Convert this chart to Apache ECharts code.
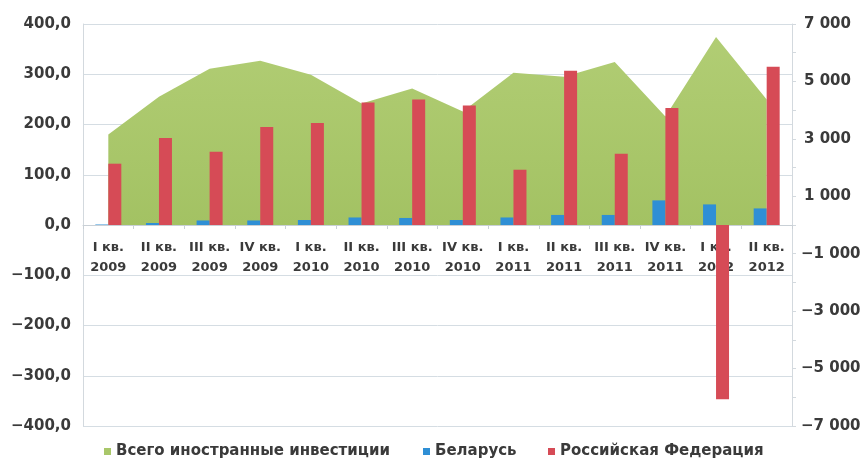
<!DOCTYPE html>
<html lang="ru">
<head>
    <meta charset="utf-8">
    <title>Иностранные инвестиции</title>
    <script src="https://cdn.jsdelivr.net/npm/echarts@6/dist/echarts.min.js"></script>
    <style>
        html, body { margin: 0; padding: 0; background: #fff; }
        #main { width: 865px; height: 463px; }
    </style>
</head>
<body>
<div id="main"></div>
<script type="text/javascript">
    // кварталы
    var categories = ['I кв.\n2009', 'II кв.\n2009', 'III кв.\n2009', 'IV кв.\n2009',
        'I кв.\n2010', 'II кв.\n2010', 'III кв.\n2010', 'IV кв.\n2010',
        'I кв.\n2011', 'II кв.\n2011', 'III кв.\n2011', 'IV кв.\n2011',
        'I кв.\n2012', 'II кв.\n2012'];

    // всего (правая ось)
    var totalValues = [3150, 4470, 5440, 5720, 5230, 4230, 4750, 3950, 5300, 5160, 5680, 3780, 6550, 4370];
    // левая ось
    var belarusValues = [1, 4, 9, 9, 10, 15, 14, 10, 15, 20, 20, 49, 41, 33];
    var russiaValues = [122, 173, 146, 195, 203, 244, 250, 238, 110, 307, 142, 233, -347, 315];

    var leftTicks = [-400, 400, 100];
    var rightTicks = [-7000, 7000, 1000];

    var fontFamily = '"DejaVu Sans", Verdana, sans-serif';
    var labelColor = '#3a3a3a';

    function fmtLeft(v) {
        var s = Math.abs(v).toFixed(1).replace('.', ',');
        return v < 0 ? '\u2212' + s : s;
    }

    function fmtRight(v) {
        if (Math.abs(v) % 2000 !== 1000) return '';
        var a = Math.abs(v);
        var s = Math.floor(a / 1000) + ' ' + ('00' + (a % 1000)).slice(-3);
        if (v < 0) return '{m|\u2212' + s + '}';
        return '{p|' + s + '}';
    }

    var legendText = {fontSize: 15, fontWeight: 'bold', color: labelColor, fontFamily: fontFamily};

    var myChart = echarts.init(document.getElementById('main'));
    myChart.setOption({
        animation: false,
        grid: {left: 83, right: 73, top: 24, bottom: 37},
        legend: [
            {data: ['Всего иностранные инвестиции'], left: 104, bottom: 4, padding: 0, icon: 'rect',
                itemWidth: 7, itemHeight: 7, textStyle: legendText},
            {data: ['Беларусь'], left: 423, bottom: 4, padding: 0, icon: 'rect',
                itemWidth: 7, itemHeight: 7, textStyle: legendText},
            {data: ['Российская Федерация'], left: 548, bottom: 4, padding: 0, icon: 'rect',
                itemWidth: 7, itemHeight: 7, textStyle: legendText}
        ],
        xAxis: {
            type: 'category',
            data: categories,
            offset: -201,
            axisLine: {onZero: false, lineStyle: {color: '#c9d0d6'}},
            axisTick: {show: true, length: 4, lineStyle: {color: '#c9d0d6'}},
            axisLabel: {
                interval: 0,
                margin: 13,
                fontSize: 13,
                lineHeight: 20,
                fontWeight: 'bold',
                color: labelColor,
                fontFamily: fontFamily
            }
        },
        yAxis: [
            {
                type: 'value',
                min: leftTicks[0],
                max: leftTicks[1],
                interval: leftTicks[2],
                axisLine: {show: true, lineStyle: {color: '#d3d9de'}},
                axisTick: {show: false},
                splitLine: {lineStyle: {color: '#d5dde3'}},
                axisLabel: {
                    formatter: fmtLeft,
                    margin: 12,
                    fontSize: 15,
                    fontWeight: 'bold',
                    color: labelColor,
                    fontFamily: fontFamily
                }
            },
            {
                type: 'value',
                min: rightTicks[0],
                max: rightTicks[1],
                interval: rightTicks[2],
                axisLine: {show: true, onZero: false, lineStyle: {color: '#d3d9de'}},
                axisTick: {show: true, length: 4, lineStyle: {color: '#d3d9de'}},
                splitLine: {show: false},
                axisLabel: {
                    formatter: fmtRight,
                    margin: 9,
                    fontSize: 15,
                    fontWeight: 'bold',
                    color: labelColor,
                    fontFamily: fontFamily,
                    rich: {
                        p: {width: 60, align: 'left', padding: [0, 0, 0, 3], fontSize: 15, fontWeight: 'bold',
                            color: labelColor, fontFamily: fontFamily},
                        m: {width: 63, align: 'left', fontSize: 15, fontWeight: 'bold',
                            color: labelColor, fontFamily: fontFamily}
                    }
                }
            }
        ],
        series: [
            {
                name: 'Всего иностранные инвестиции',
                type: 'line',
                yAxisIndex: 1,
                z: 1,
                data: totalValues,
                symbol: 'none',
                lineStyle: {width: 0},
                itemStyle: {color: '#a9c76a'},
                areaStyle: {
                    opacity: 1,
                    color: new echarts.graphic.LinearGradient(0, 0, 0, 1, [
                        {offset: 0, color: '#b1cd74'},
                        {offset: 1, color: '#a3c263'}
                    ])
                }
            },
            {
                name: 'Беларусь',
                type: 'bar',
                yAxisIndex: 0,
                z: 3,
                data: belarusValues,
                barWidth: 13,
                barGap: '0%',
                itemStyle: {color: '#2f8fd5'}
            },
            {
                name: 'Российская Федерация',
                type: 'bar',
                yAxisIndex: 0,
                z: 3,
                data: russiaValues,
                barWidth: 13,
                itemStyle: {color: '#d64b56'}
            }
        ]
    });
</script>
</body>
</html>
